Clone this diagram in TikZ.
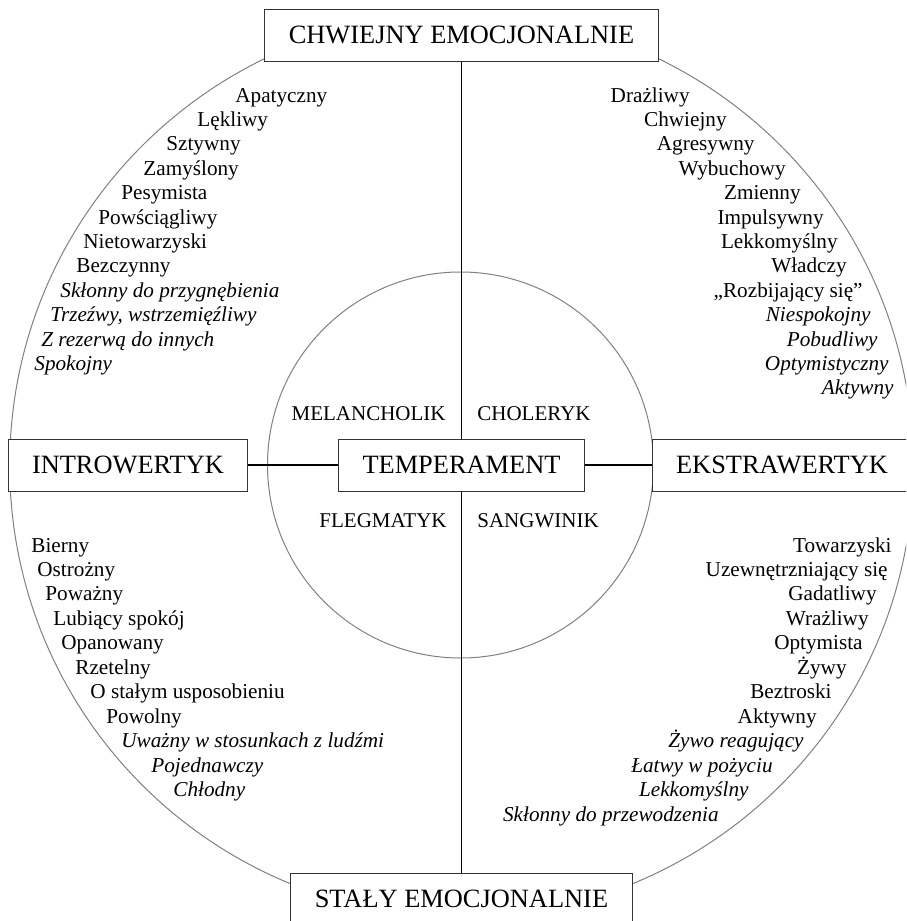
\documentclass[tikz,border=0pt]{standalone}
\usepackage{fontspec}
\setmainfont{Liberation Serif}
\usetikzlibrary{arrows}

\begin{document}
\begin{tikzpicture}[x=0.5pt,y=-0.5pt,
    main node/.style={rectangle,draw=black!80,fill=white,line width=0.5pt,
      font=\fontsize{13.2}{15}\selectfont,minimum height=26pt,inner xsep=12pt},
      roundnode/.style={circle, draw=black!50, line width=0.5pt, inner sep=0pt},
      typ node/.style={font=\fontsize{10.5}{12}\selectfont, inner sep=0pt},
      left trait/.style={font=\fontsize{10.6}{12}\selectfont, inner sep=0pt, anchor=base west},
      right trait/.style={left trait, anchor=base east}]

    \useasboundingbox (0,0) rectangle (906,921);
    \clip (0,0) rectangle (906,921);

    \node[roundnode, minimum size=451.8pt] (Outer) at (461.5,465.4) {};
    \node[roundnode, minimum size=193pt] (Inner) at (460.5,465) {};

    \node[main node] (Temper) at (461.5,465) {TEMPERAMENT};
    \node[main node] (Chwiejny) at (461.5,35) {CHWIEJNY EMOCJONALNIE};
    \node[main node] (Staly) at (461.5,899) {STAŁY EMOCJONALNIE};
    \node[main node] (Intro) at (128,465) {INTROWERTYK};
    \node[main node] (Ekstra) at (782,465) {EKSTRAWERTYK};

    \path[line width=0.8pt]
      (Chwiejny) edge (Temper)
      (Temper) edge (Staly)
      (Intro) edge (Temper)
      (Temper) edge (Ekstra)
      ;

    \node[typ node, anchor=base east] (Melan) at (446,420) {MELANCHOLIK};
    \node[typ node, anchor=base west] (Chol) at (477,420) {CHOLERYK};
    \node[typ node, anchor=base east] (Fleg) at (447,527) {FLEGMATYK};
    \node[typ node, anchor=base west] (Sang) at (477,527) {SANGWINIK};

    % melancholik
    \node[left trait] (m1) at (235,102) {Apatyczny};
    \node[left trait] (m2) at (197,126.4) {Lękliwy};
    \node[left trait] (m3) at (166,150.8) {Sztywny};
    \node[left trait] (m4) at (143,175.2) {Zamyślony};
    \node[left trait] (m5) at (121,199.6) {Pesymista};
    \node[left trait] (m6) at (98,224) {Powściągliwy};
    \node[left trait] (m7) at (83,248.4) {Nietowarzyski};
    \node[left trait] (m8) at (76,272.8) {Bezczynny};
    \node[left trait] (m9) at (60,297.2) {\itshape Skłonny do przygnębienia};
    \node[left trait] (m10) at (50,321.6) {\itshape Trzeźwy, wstrzemięźliwy};
    \node[left trait] (m11) at (41,346) {\itshape Z rezerwą do innych};
    \node[left trait] (m12) at (34,370.4) {\itshape Spokojny};

    % choleryk
    \node[right trait] (c1) at (690,102) {Drażliwy};
    \node[right trait] (c2) at (727,126.4) {Chwiejny};
    \node[right trait] (c3) at (755,150.8) {Agresywny};
    \node[right trait] (c4) at (786,175.2) {Wybuchowy};
    \node[right trait] (c5) at (801,199.6) {Zmienny};
    \node[right trait] (c6) at (824,224) {Impulsywny};
    \node[right trait] (c7) at (838,248.4) {Lekkomyślny};
    \node[right trait] (c8) at (847,272.8) {Władczy};
    \node[right trait] (c9) at (863,297.2) {„Rozbijający się”};
    \node[right trait] (c10) at (871,321.6) {\itshape Niespokojny};
    \node[right trait] (c11) at (878,346) {\itshape Pobudliwy};
    \node[right trait] (c12) at (889,370.4) {\itshape Optymistyczny};
    \node[right trait] (c13) at (894,394.8) {\itshape Aktywny};

    % flegmatyk
    \node[left trait] (f1) at (31,552) {Bierny};
    \node[left trait] (f2) at (37,576.5) {Ostrożny};
    \node[left trait] (f3) at (45,600.9) {Poważny};
    \node[left trait] (f4) at (53,625.4) {Lubiący spokój};
    \node[left trait] (f5) at (61,649.8) {Opanowany};
    \node[left trait] (f6) at (75,674.3) {Rzetelny};
    \node[left trait] (f7) at (90,698.7) {O stałym usposobieniu};
    \node[left trait] (f8) at (106,723.2) {Powolny};
    \node[left trait] (f9) at (121,747.6) {\itshape Uważny w stosunkach z ludźmi};
    \node[left trait] (f10) at (151,772.1) {\itshape Pojednawczy};
    \node[left trait] (f11) at (173,796.5) {\itshape Chłodny};

    % sangwinik
    \node[right trait] (s1) at (892,552) {Towarzyski};
    \node[right trait] (s2) at (888,576.5) {Uzewnętrzniający się};
    \node[right trait] (s3) at (877,600.9) {Gadatliwy};
    \node[right trait] (s4) at (869,625.4) {Wrażliwy};
    \node[right trait] (s5) at (863,649.8) {Optymista};
    \node[right trait] (s6) at (847,674.3) {Żywy};
    \node[right trait] (s7) at (832,698.7) {Beztroski};
    \node[right trait] (s8) at (817,723.2) {Aktywny};
    \node[right trait] (s9) at (804,747.6) {\itshape Żywo reagujący};
    \node[right trait] (s10) at (773,772.1) {\itshape Łatwy w pożyciu};
    \node[right trait] (s11) at (749,796.5) {\itshape Lekkomyślny};
    \node[right trait] (s12) at (719,821) {\itshape Skłonny do przewodzenia};
\end{tikzpicture}
\end{document}
